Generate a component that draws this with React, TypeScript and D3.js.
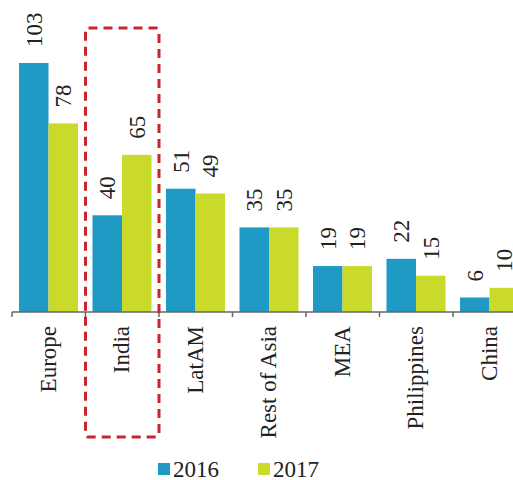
import React from "react";
import * as d3 from "d3";

const categories = ["Europe", "India", "LatAM", "Rest of Asia", "MEA", "Philippines", "China"];
const series = ["2016", "2017"];
const values2016 = [103, 40, 51, 35, 19, 22, 6];
const values2017 = [78, 65, 49, 35, 19, 15, 10];
const colors = ["#1e9ac4", "#c9da2a"];
const highlighted = "India";

export default function App() {
  const W = 513;
  const H = 480;
  const baseY = 312;
  const font = "Liberation Serif, Tinos, Times New Roman, serif";
  const fs = 23;

  const x = d3.scaleBand<string>().domain(categories).range([12, 12 + 7 * 73.5]).paddingInner(0).paddingOuter(0);
  const bw = x.bandwidth();
  const xs = d3.scaleBand<string>().domain(series).range([7, 66]).paddingInner(0);
  const y = d3.scaleLinear().domain([0, 103]).range([baseY, 63]);

  const data = [values2016, values2017];
  const ticks = d3.range(categories.length + 1).map((i) => 12 + i * bw);
  const hx = x(highlighted)!;

  return (
    <svg width={W} height={H} style={{ position: "absolute", left: 0, top: 0, fontFamily: font }}>
      {categories.map((c, ci) =>
        series.map((s, si) => {
          const v = data[si][ci];
          const bx = x(c)! + xs(s)!;
          return (
            <rect key={c + s} x={bx} y={y(v)} width={xs.bandwidth()} height={baseY - y(v)} fill={colors[si]} />
          );
        })
      )}
      {categories.map((c, ci) =>
        series.map((s, si) => {
          const v = data[si][ci];
          const cx = x(c)! + xs(s)! + xs.bandwidth() / 2;
          return (
            <text
              key={"l" + c + s}
              transform={`translate(${cx},${y(v) - 16}) rotate(-90)`}
              textAnchor="start"
              dy="0.34em"
              fontSize={fs}
              fill="#222"
              style={{ fontFamily: font }}
            >
              {v}
            </text>
          );
        })
      )}
      <line x1={12} x2={W} y1={baseY} y2={baseY} stroke="#666" strokeWidth={1.5} />
      {ticks.map((t, i) => (
        <line key={"t" + i} x1={t} x2={t} y1={baseY} y2={baseY + 5} stroke="#666" strokeWidth={1.5} />
      ))}
      {categories.map((c) => (
        <text
          key={"c" + c}
          transform={`translate(${x(c)! + bw / 2},${326}) rotate(-90)`}
          textAnchor="end"
          dy="0.3em"
          fontSize={fs}
          fill="#222"
          style={{ fontFamily: font }}
        >
          {c}
        </text>
      ))}
      <rect
        x={hx}
        y={28}
        width={bw}
        height={409}
        rx={3}
        fill="none"
        stroke="#c9252f"
        strokeWidth={3}
        strokeDasharray="9 6"
      />
      {series.map((s, si) => (
        <g key={"lg" + s} transform={`translate(${158 + si * 100},463)`}>
          <rect x={0} y={0} width={12} height={12} fill={colors[si]} />
          <text x={15} y={14} fontSize={fs} fill="#222" style={{ fontFamily: font }}>
            {s}
          </text>
        </g>
      ))}
    </svg>
  );
}
